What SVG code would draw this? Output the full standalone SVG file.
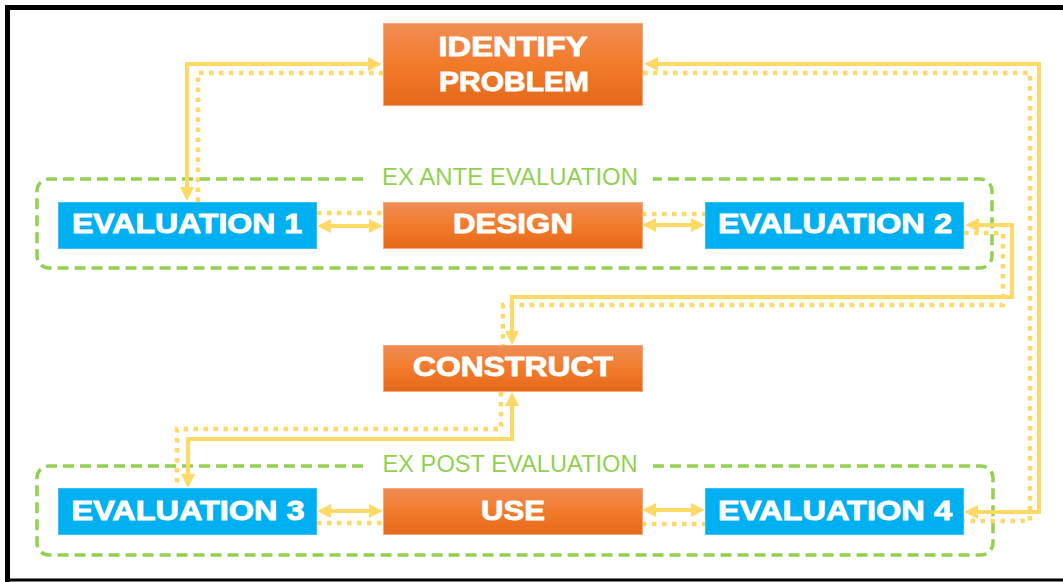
<svg xmlns="http://www.w3.org/2000/svg" width="1063" height="582" viewBox="0 0 1063 582">
<style>
.org{fill:url(#og);stroke:#F5A578;stroke-width:1}
.blu{fill:#00B0F0;stroke:#33C2F5;stroke-width:1}
.bt{font-family:"Liberation Sans",Arial,sans-serif;font-weight:bold;font-size:28px;fill:#fff;stroke:#fff;stroke-width:0.9;text-anchor:middle}
.grp{fill:none;stroke:#92D050;stroke-width:3.5;stroke-dasharray:11 6}
.gl{font-family:"Liberation Sans",Arial,sans-serif;font-size:24px;fill:#92D050;text-anchor:middle}
.sol{fill:none;stroke:#FFD966;stroke-width:4;marker-start:url(#ah);marker-end:url(#ah)}
.dot{fill:none;stroke:#FFD966;stroke-width:4.5;stroke-dasharray:4.5 5.5}
</style>
<defs>
<linearGradient id="og" x1="0" y1="0" x2="0" y2="1">
<stop offset="0" stop-color="#F08D55"/>
<stop offset="0.5" stop-color="#F27B2A"/>
<stop offset="1" stop-color="#E4691A"/>
</linearGradient>
<marker id="ah" markerUnits="userSpaceOnUse" markerWidth="14" markerHeight="14" viewBox="0 0 14 14" refX="7" refY="7" orient="auto-start-reverse">
<path d="M0,0 L14,7 L0,14 z" fill="#FFD966"/>
</marker>
</defs>
<rect width="1063" height="582" fill="#fff"/>
<g id="frame" stroke="#000" fill="none">
<line x1="5" y1="7.5" x2="1063" y2="7.5" stroke-width="5"/>
<line x1="7.5" y1="5" x2="7.5" y2="582" stroke-width="5"/>
<line x1="5" y1="580" x2="1063" y2="580" stroke-width="3"/>
</g>
<g id="groups">
<g id="ex-ante">
<path class="grp" d="M363,179 H49 A12,12 0 0 0 37,191 V256 A12,12 0 0 0 49,268 H980 A12,12 0 0 0 992,256 V191 A12,12 0 0 0 980,179 H653"/>
<text class="gl" x="510" y="185" textLength="256" lengthAdjust="spacingAndGlyphs">EX ANTE EVALUATION</text>
</g>
<g id="ex-post">
<path class="grp" d="M363,466 H49 A12,12 0 0 0 37,478 V543 A12,12 0 0 0 49,555 H981 A12,12 0 0 0 993,543 V478 A12,12 0 0 0 981,466 H653"/>
<text class="gl" x="510" y="472" textLength="255" lengthAdjust="spacingAndGlyphs">EX POST EVALUATION</text>
</g>
</g>
<g id="connectors">
<path class="dot" d="M198,202 V73 H383"/>
<path class="sol" d="M187,194 V64 H375"/>
<path class="dot" d="M643,73 H1030 V521 H964"/>
<path class="sol" d="M651,64 H1039 V512 H971"/>
<path class="dot" d="M964,233 H1003 V305 H503 V345"/>
<path class="sol" d="M972,225 H1012 V297 H512 V338"/>
<path class="dot" d="M501,392 V429 H177 V488"/>
<path class="sol" d="M512,399 V439 H188 V481"/>
<path class="dot" d="M317,213 H383"/>
<path class="sol" d="M324,226 H376"/>
<path class="dot" d="M642,214 H705"/>
<path class="sol" d="M649,225 H698"/>
<path class="dot" d="M317,523 H383"/>
<path class="sol" d="M324,511 H376"/>
<path class="dot" d="M642,524 H705"/>
<path class="sol" d="M649,510 H698"/>
</g>
<g id="identify-problem">
<rect class="org" x="383.5" y="23.5" width="259" height="82"/>
<text class="bt" x="513" y="56" textLength="149" lengthAdjust="spacingAndGlyphs">IDENTIFY</text>
<text class="bt" x="514" y="91" textLength="150" lengthAdjust="spacingAndGlyphs">PROBLEM</text>
</g>
<g id="evaluation-1">
<rect class="blu" x="58.5" y="202.5" width="258" height="46"/>
<text class="bt" x="187" y="233" textLength="230" lengthAdjust="spacingAndGlyphs">EVALUATION 1</text>
</g>
<g id="design">
<rect class="org" x="383.5" y="202.5" width="259" height="46"/>
<text class="bt" x="513" y="233" textLength="120" lengthAdjust="spacingAndGlyphs">DESIGN</text>
</g>
<g id="evaluation-2">
<rect class="blu" x="705.5" y="202.5" width="258" height="46"/>
<text class="bt" x="835" y="233" textLength="234" lengthAdjust="spacingAndGlyphs">EVALUATION 2</text>
</g>
<g id="construct">
<rect class="org" x="383.5" y="345.5" width="259" height="46"/>
<text class="bt" x="513" y="376" textLength="200" lengthAdjust="spacingAndGlyphs">CONSTRUCT</text>
</g>
<g id="evaluation-3">
<rect class="blu" x="58.5" y="488.5" width="258" height="46"/>
<text class="bt" x="188" y="520" textLength="233" lengthAdjust="spacingAndGlyphs">EVALUATION 3</text>
</g>
<g id="use">
<rect class="org" x="383.5" y="488.5" width="259" height="46"/>
<text class="bt" x="513" y="520" textLength="64" lengthAdjust="spacingAndGlyphs">USE</text>
</g>
<g id="evaluation-4">
<rect class="blu" x="705.5" y="488.5" width="258" height="46"/>
<text class="bt" x="835" y="520" textLength="234" lengthAdjust="spacingAndGlyphs">EVALUATION 4</text>
</g>
</svg>
